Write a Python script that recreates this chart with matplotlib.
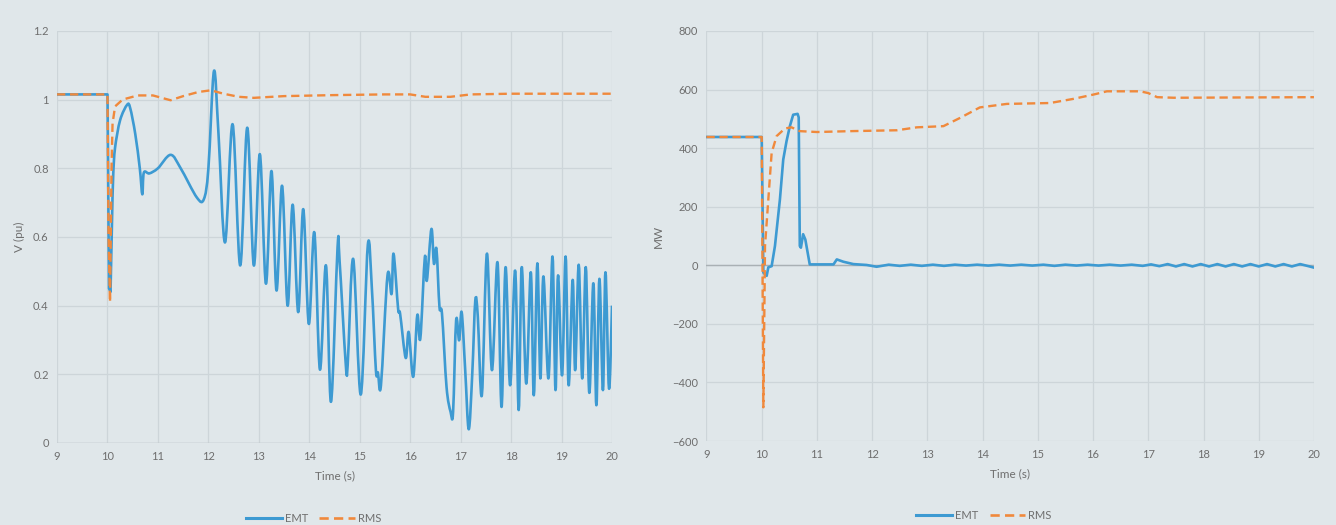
import matplotlib
matplotlib.use("Agg")
import matplotlib.pyplot as plt
from matplotlib.path import Path
from matplotlib.patches import PathPatch
from matplotlib.lines import Line2D

# ---------------- data: left panel (voltage, pu) ----------------
v_emt_t = [9.0, 10.0, 10.03, 10.06, 10.10, 10.115, 10.15, 10.25, 10.39, 10.45, 10.55, 10.64,
           10.69, 10.72, 10.83, 11.0, 11.25, 11.45, 11.77, 11.91, 12.0, 12.11, 12.20, 12.33,
           12.48, 12.63, 12.77, 12.90, 13.02, 13.14, 13.25, 13.35, 13.46, 13.57, 13.67, 13.78,
           13.88, 13.99, 14.10, 14.21, 14.33, 14.43, 14.56, 14.60, 14.72, 14.76, 14.87, 15.02,
           15.16, 15.24, 15.32, 15.36, 15.42, 15.55, 15.63, 15.67, 15.76, 15.80, 15.91, 15.97,
           16.06, 16.14, 16.20, 16.29, 16.33, 16.42, 16.47, 16.52, 16.58, 16.63, 16.72, 16.80,
           16.85, 16.91, 16.97, 17.02, 17.09, 17.16, 17.23, 17.29, 17.34, 17.42, 17.52, 17.62,
           17.73, 17.81, 17.89, 17.98, 18.08, 18.15, 18.21, 18.30, 18.39, 18.45, 18.52, 18.58,
           18.64, 18.74, 18.82, 18.88, 18.93, 19.01, 19.08, 19.14, 19.22, 19.27, 19.34, 19.41,
           19.48, 19.55, 19.63, 19.69, 19.75, 19.82, 19.87, 19.94, 20.0]
v_emt = [1.015, 1.015, 0.45, 0.44, 0.72, 0.787, 0.86, 0.94, 0.985, 0.975, 0.90, 0.80,
         0.724, 0.787, 0.785, 0.80, 0.839, 0.80, 0.715, 0.71, 0.80, 1.083, 0.90, 0.584,
         0.928, 0.517, 0.918, 0.517, 0.841, 0.464, 0.792, 0.444, 0.749, 0.400, 0.694, 0.381,
         0.681, 0.347, 0.613, 0.214, 0.517, 0.120, 0.570, 0.530, 0.235, 0.226, 0.536, 0.141,
         0.577, 0.450, 0.212, 0.205, 0.168, 0.488, 0.434, 0.551, 0.391, 0.376, 0.248, 0.323,
         0.193, 0.372, 0.304, 0.541, 0.473, 0.623, 0.522, 0.565, 0.396, 0.376, 0.163, 0.091,
         0.091, 0.357, 0.299, 0.381, 0.212, 0.040, 0.202, 0.415, 0.367, 0.139, 0.551, 0.212,
         0.526, 0.105, 0.512, 0.168, 0.502, 0.096, 0.512, 0.173, 0.497, 0.139, 0.523, 0.188,
         0.485, 0.188, 0.543, 0.154, 0.488, 0.197, 0.543, 0.168, 0.475, 0.212, 0.519, 0.188,
         0.512, 0.146, 0.465, 0.110, 0.478, 0.154, 0.497, 0.159, 0.400]

v_rms_t = [9.0, 10.0, 10.02, 10.05, 10.08, 10.10, 10.15, 10.3, 10.6, 10.9, 11.25, 11.5, 11.8,
           12.05, 12.3, 12.6, 12.9, 13.5, 14.5, 15.5, 16.0, 16.3, 16.8, 17.2, 18.0, 20.0]
v_rms = [1.015, 1.015, 0.60, 0.41, 0.80, 0.93, 0.98, 1.0, 1.012, 1.012, 0.998, 1.01, 1.022,
         1.027, 1.017, 1.008, 1.005, 1.01, 1.013, 1.015, 1.015, 1.008, 1.008, 1.015, 1.017, 1.017]

# ---------------- data: right panel (power, MW) ----------------
p_emt_t = [9.0, 10.0, 10.03, 10.09, 10.12, 10.18, 10.24, 10.33, 10.39, 10.45, 10.51, 10.57,
           10.65, 10.67, 10.69, 10.71, 10.75, 10.79, 10.87, 11.30, 11.36, 11.48, 11.66, 11.90,
           12.08, 12.3, 12.5, 12.7, 12.9, 13.1, 13.3, 13.5, 13.7, 13.9, 14.1, 14.3, 14.5, 14.7,
           14.9, 15.1, 15.3, 15.5, 15.7, 15.9, 16.1, 16.3, 16.5, 16.7, 16.9, 17.05, 17.2,
           17.35, 17.5, 17.65, 17.8, 17.95, 18.1, 18.25, 18.4, 18.55, 18.7, 18.85, 19.0,
           19.15, 19.3, 19.45, 19.6, 19.75, 19.9, 20.0]
p_emt = [438, 438, -25, -36, -7, -3, 66, 225, 361, 424, 475, 514,
         517, 505, 66, 60, 106, 88, 3, 3, 20, 12, 4, 1,
         -5, 2, -2, 2, -2, 2, -2, 2, -1, 2, -1, 2, -1, 2,
         -1, 2, -2, 2, -1, 2, -1, 2, -1, 2, -2, 3, -3,
         4, -4, 4, -4, 4, -4, 4, -4, 4, -4, 4, -4,
         4, -4, 4, -4, 4, -3, -8]

p_rms_t = [9.0, 10.0, 10.03, 10.06, 10.12, 10.18, 10.27, 10.42, 10.54, 10.69, 11.0, 11.61,
           12.45, 12.81, 13.29, 13.59, 13.95, 14.44, 15.22, 15.64, 16.01, 16.25, 16.85, 17.0,
           17.16, 17.46, 20.0]
p_rms = [438, 438, -485, 66, 225, 384, 441, 467, 471, 458, 455, 458,
         461, 471, 475, 503, 539, 551, 554, 568, 583, 594, 594, 588,
         574, 572, 574]

x_ticks = list(range(9, 21))
v_ticks = [0, 0.2, 0.4, 0.6, 0.8, 1, 1.2]
v_tick_labels = ["0", "0.2", "0.4", "0.6", "0.8", "1", "1.2"]
p_ticks = [-600, -400, -200, 0, 200, 400, 600, 800]

# ---------------- styling ----------------
BG = "#e0e7ea"
GRID = "#cdd5d9"
TXT = "#6e6e6e"
EMT_C = "#3d9ad2"
RMS_C = "#f0893c"

plt.rcParams["font.family"] = ["Lato", "DejaVu Sans"]

fig = plt.figure(figsize=(13.36, 5.25), dpi=100, facecolor=BG)
axL = fig.add_axes([0.0427, 0.1562, 0.4154, 0.785])
axR = fig.add_axes([0.5288, 0.160, 0.4547, 0.781])


def smooth_path(xs, ys, sharp_until=0):
    """Excel-like smoothed line through the data points (Bezier, Catmull-Rom tangents).
    Points with index < sharp_until are joined by straight segments."""
    verts = [(xs[0], ys[0])]
    codes = [Path.MOVETO]
    n = len(xs)
    for i in range(n - 1):
        x1, y1, x2, y2 = xs[i], ys[i], xs[i + 1], ys[i + 1]
        if i < sharp_until:
            verts.append((x2, y2))
            codes.append(Path.LINETO)
            continue
        x0, y0 = (xs[i - 1], ys[i - 1]) if i > 0 else (x1, y1)
        x3, y3 = (xs[i + 2], ys[i + 2]) if i + 2 < n else (x2, y2)
        c1 = (x1 + (x2 - x0) / 6.0, y1 + (y2 - y0) / 6.0)
        c2 = (x2 - (x3 - x1) / 6.0, y2 - (y3 - y1) / 6.0)
        verts += [c1, c2, (x2, y2)]
        codes += [Path.CURVE4, Path.CURVE4, Path.CURVE4]
    return Path(verts, codes)


def style(ax):
    ax.set_facecolor(BG)
    for s in ax.spines.values():
        s.set_visible(False)
    ax.grid(True, color=GRID, linewidth=0.9)
    ax.set_axisbelow(True)
    ax.tick_params(length=0, labelsize=8, colors=TXT, pad=6)
    ax.set_xlim(9, 20)
    ax.set_xticks(x_ticks)
    ax.set_xlabel("Time (s)", fontsize=8.5, color=TXT, labelpad=6)


def add_legend(ax, xc):
    handles = [Line2D([], [], color=EMT_C, lw=2.2),
               Line2D([], [], color=RMS_C, lw=1.9, ls=(0, (3.5, 2)))]
    ax.legend(handles, ["EMT", "RMS"], loc="center", bbox_to_anchor=(xc, -0.182), ncol=2,
              frameon=False, fontsize=8, labelcolor=TXT, handlelength=3.2,
              columnspacing=1.0, handletextpad=0.3)

# left
style(axL)
axL.set_ylim(0, 1.2)
axL.set_yticks(v_ticks)
axL.set_yticklabels(v_tick_labels)
axL.axhline(0, color="#b9c0c4", lw=1.0, zorder=1)
axL.add_patch(PathPatch(smooth_path(v_emt_t, v_emt, sharp_until=5), fill=False,
                        edgecolor=EMT_C, lw=1.9, zorder=3, joinstyle="round"))
axL.plot(v_rms_t, v_rms, color=RMS_C, lw=1.7, ls=(0, (3.5, 2)), zorder=4)
axL.set_ylabel("V (pu)", fontsize=8.5, color=TXT, labelpad=6)
add_legend(axL, 0.463)

# right
style(axR)
axR.set_ylim(-600, 800)
axR.set_yticks(p_ticks)
axR.axhline(0, color="#a9b0b4", lw=1.0, zorder=1)
axR.plot(p_emt_t, p_emt, color=EMT_C, lw=1.9, zorder=3, solid_joinstyle="round")
axR.plot(p_rms_t, p_rms, color=RMS_C, lw=1.7, ls=(0, (3.5, 2)), zorder=4)
axR.set_ylabel("MW", fontsize=8.5, color=TXT, labelpad=6)
add_legend(axR, 0.457)

fig.savefig("out.png", dpi=100, facecolor=BG)
